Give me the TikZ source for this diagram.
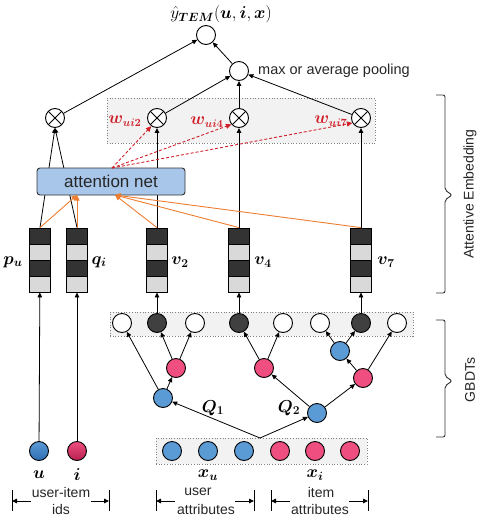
\documentclass[tikz,border=0pt]{standalone}
\usepackage[no-math]{fontspec}
\setmainfont{Liberation Sans}
\usepackage{bm}
\usetikzlibrary{arrows.meta,calc}
\definecolor{cblue}{HTML}{5B9BD5}
\definecolor{cblued}{HTML}{2E6DB4}
\definecolor{cpink}{HTML}{EE4F80}
\definecolor{cpinkd}{HTML}{B8204F}
\definecolor{cdark}{HTML}{404040}
\definecolor{vdark}{HTML}{333333}
\definecolor{vlight}{HTML}{D9D9D9}
\definecolor{attfill}{HTML}{A7C6EA}
\definecolor{corange}{HTML}{ED7D31}
\definecolor{cred}{HTML}{D0202A}
\definecolor{boxfill}{HTML}{F2F2F2}
\begin{document}
\begin{tikzpicture}[x=1pt,y=-1pt,
  nd/.style={circle, draw, line width=0.9pt, minimum size=19pt, inner sep=0pt, fill=white},
  ot/.style={nd, path picture={\draw[line width=0.9pt] (path picture bounding box.north west)--(path picture bounding box.south east) (path picture bounding box.north east)--(path picture bounding box.south west);}},
  bl/.style={nd, fill=cblue},
  pk/.style={nd, fill=cpink},
  dk/.style={nd, fill=cdark},
  vec/.style={draw, line width=0.8pt, minimum width=21pt, minimum height=64pt, inner sep=0pt, fill=vlight,
    path picture={
      \fill[vdark] (path picture bounding box.north west) rectangle ($(path picture bounding box.north east)!0.25!(path picture bounding box.south east)$);
      \fill[vdark] ($(path picture bounding box.north west)!0.5!(path picture bounding box.south west)$) rectangle ($(path picture bounding box.north east)!0.75!(path picture bounding box.south east)$);
      \draw[line width=0.6pt] ($(path picture bounding box.north west)!0.25!(path picture bounding box.south west)$) -- ($(path picture bounding box.north east)!0.25!(path picture bounding box.south east)$);
      \draw[line width=0.6pt] ($(path picture bounding box.north west)!0.5!(path picture bounding box.south west)$) -- ($(path picture bounding box.north east)!0.5!(path picture bounding box.south east)$);
      \draw[line width=0.6pt] ($(path picture bounding box.north west)!0.75!(path picture bounding box.south west)$) -- ($(path picture bounding box.north east)!0.75!(path picture bounding box.south east)$);
    }},
  con/.style={line width=0.8pt, -{Triangle[length=5pt,width=4.5pt]}},
  orarr/.style={corange, line width=0.9pt, -{Triangle[length=5.5pt,width=5pt]}},
  wdash/.style={cred, line width=0.9pt, dash pattern=on 3pt off 2pt, -{Triangle[length=5.5pt,width=5pt]}},
  gbox/.style={draw=gray, dotted, line width=0.7pt, fill=boxfill},
  txt/.style={font=\fontsize{14}{16}\selectfont, text=black!85, inner sep=0pt},
  mlab/.style={font=\fontsize{18}{20}\selectfont, inner sep=0pt},
  wlab/.style={font=\fontsize{16}{18}\selectfont, text=cred, inner sep=0pt},
  brk/.style={line width=0.9pt, rounded corners=2pt},
  dim/.style={line width=0.9pt, -{Triangle[length=5pt,width=4.5pt]}}
]
\useasboundingbox (0,0) rectangle (483,520);

% grey boxes
\node[gbox, minimum width=268pt, minimum height=45pt] (embbox) at (241,120.5) {};
\node[gbox, minimum width=303pt, minimum height=24pt] (leafbox) at (261.5,324) {};
\node[gbox, minimum width=211pt, minimum height=26pt] (inbox) at (261.5,451) {};

% top nodes
\node[nd] (out) at (206,35) {};
\node[mlab, anchor=south] (outlab) at (221,23) {$\hat{y}_{\bm{TEM}}(\bm{u},\bm{i},\bm{x})$};
\node[nd] (pool) at (239,71) {};
\node[txt, anchor=west, font=\fontsize{14.5}{16}\selectfont] (poollab) at (258,71) {max or average pooling};

% otimes
\node[ot] (ot1) at (55,118) {};
\node[ot] (ot2) at (157,118) {};
\node[ot] (ot4) at (239,118) {};
\node[ot] (ot7) at (361,118) {};

\draw[con] (ot1) -- (out);
\draw[con] (pool) -- (out);
\draw[con] (ot2) -- (pool);
\draw[con] (ot4) -- (pool);
\draw[con] (ot7) -- (pool);

% vectors
\node[vec] (pu) at (40,260) {};
\node[vec] (qi) at (77,260) {};
\node[vec] (v2) at (157,260) {};
\node[vec] (v4) at (239,260) {};
\node[vec] (v7) at (361,260) {};
\node[mlab] (pulab) at (13,262) {$\bm{p_u}$};
\node[mlab] (qilab) at (99,262) {$\bm{q_i}$};
\node[mlab] (v2lab) at (180,262) {$\bm{v_2}$};
\node[mlab] (v4lab) at (263,262) {$\bm{v_4}$};
\node[mlab] (v7lab) at (386,262) {$\bm{v_7}$};

% lines passing behind attention net
\draw[con] (pu.north) -- (ot1.south);
\draw[con] (qi.north) -- (ot1.south);
\draw[con] (v2.north) -- (ot2.south);
\draw[con] (v4.north) -- (ot4.south);
\draw[con] (v7.north) -- (ot7.south);

% attention net
\node[draw=black!80, line width=0.9pt, rounded corners=3pt, fill=attfill, minimum width=148pt, minimum height=27pt, font=\fontsize{17}{19}\selectfont, text=black!85] (att) at (111,181.5) {attention net};

\coordinate (oa) at (77,195);
\coordinate (ob) at (115,195);
\draw[orarr] (pu.north) -- (oa);
\draw[orarr] (qi.north) -- (oa);
\draw[orarr] (v2.north) -- (ob);
\draw[orarr] (v4.north) -- (ob);
\draw[orarr] (v7.north) -- (ob);

\coordinate (rs) at (112,168);
\draw[wdash] (rs) -- (ot2.-125);
\draw[wdash] (rs) -- (ot4.-140);
\draw[wdash] (rs) -- (ot7.-150);
\node[wlab] (w2) at (125,121) {$\bm{w_{ui2}}$};
\node[wlab] (w4) at (207,122) {$\bm{w_{ui4}}$};
\node[wlab] (w7) at (331,121) {$\bm{w_{ui7}}$};

% leaves
\node[nd] (l1) at (122,323) {};
\node[dk] (l2) at (157,323) {};
\node[nd] (l3) at (195,323) {};
\node[dk] (l4) at (239,323) {};
\node[nd] (l5) at (283,323) {};
\node[nd] (l6) at (320,323) {};
\node[dk] (l7) at (361,323) {};
\node[nd] (l8) at (397,323) {};
\draw[con] (l2) -- (v2);
\draw[con] (l4) -- (v4);
\draw[con] (l7) -- (v7);

% trees
\node[bl] (b1) at (163,398) {};
\node[pk] (p1) at (176,368) {};
\node[bl] (b2) at (317,413) {};
\node[pk] (p2) at (264,368) {};
\node[pk] (p3) at (363,378) {};
\node[bl] (b3) at (340,351) {};
\draw[con] (b1) -- (l1);
\draw[con] (b1) -- (p1);
\draw[con] (p1) -- (l2);
\draw[con] (p1) -- (l3);
\draw[con] (b2) -- (p2);
\draw[con] (b2) -- (p3);
\draw[con] (p2) -- (l4);
\draw[con] (p2) -- (l5);
\draw[con] (p3) -- (b3);
\draw[con] (p3) -- (l8);
\draw[con] (b3) -- (l6);
\draw[con] (b3) -- (l7);
\coordinate (root) at (260,438);
\draw[con] (root) -- (b1);
\draw[con] (root) -- (b2);
\node[mlab] (q1lab) at (213,408) {$\bm{Q_1}$};
\node[mlab] (q2lab) at (289,408) {$\bm{Q_2}$};

% inputs
\node[bl] (x1) at (172,451) {};
\node[bl] (x2) at (208,451) {};
\node[bl] (x3) at (244,451) {};
\node[pk] (x4) at (280,451) {};
\node[pk] (x5) at (315,451) {};
\node[pk] (x6) at (350,451) {};

\node[nd, top color=cblue, bottom color=cblued] (u) at (39,451) {};
\node[nd, top color=cpink, bottom color=cpinkd] (i) at (77,451) {};
\draw[con] (u) -- (pu);
\draw[con] (i) -- (qi);

\node[mlab] (ulab) at (39,475) {$\bm{u}$};
\node[mlab] (ilab) at (77,475) {$\bm{i}$};
\node[mlab] (xulab) at (208,475) {$\bm{x_u}$};
\node[mlab] (xilab) at (315,475) {$\bm{x_i}$};

\node[txt] (t1) at (61,492) {user-item};
\node[txt] (t2) at (61,509) {ids};
\node[txt] (t3) at (198,492) {user};
\node[txt] (t4) at (206,509) {attributes};
\node[txt] (t5) at (321,492) {item};
\node[txt] (t6) at (320,509) {attributes};

% dimension arrows
\foreach \n/\x in {a/12,b/109,c/156,d/254,e/271,f/368}{
  \coordinate (bt\n) at (\x,490);
  \coordinate (bb\n) at (\x,511);
  \draw[line width=0.9pt] (bt\n) -- (bb\n);
}
\coordinate (sa) at (31,501); \coordinate (ea) at (12,501);
\coordinate (sb) at (91,501); \coordinate (eb) at (109,501);
\coordinate (sc) at (175,501); \coordinate (ec) at (156,501);
\coordinate (sd) at (235,501); \coordinate (ed) at (254,501);
\coordinate (se) at (290,501); \coordinate (ee) at (271,501);
\coordinate (sf) at (349,501); \coordinate (ef) at (368,501);
\foreach \n in {a,b,c,d,e,f}{\draw[dim] (s\n) -- (e\n);}

% brackets
\draw[brk, black!80] (436,95) -- (445,95) -- (445,190) -- (452,195) -- (445,200) -- (445,293) -- (436,293);
\draw[brk, black!80] (436,320) -- (445,320) -- (445,376) -- (452,381) -- (445,386) -- (445,437) -- (436,437);
\node[txt, rotate=90] (attemb) at (470,194) {Attentive Embedding};
\node[txt, rotate=90] (gbdt) at (470,380) {GBDTs};
\end{tikzpicture}
\end{document}
